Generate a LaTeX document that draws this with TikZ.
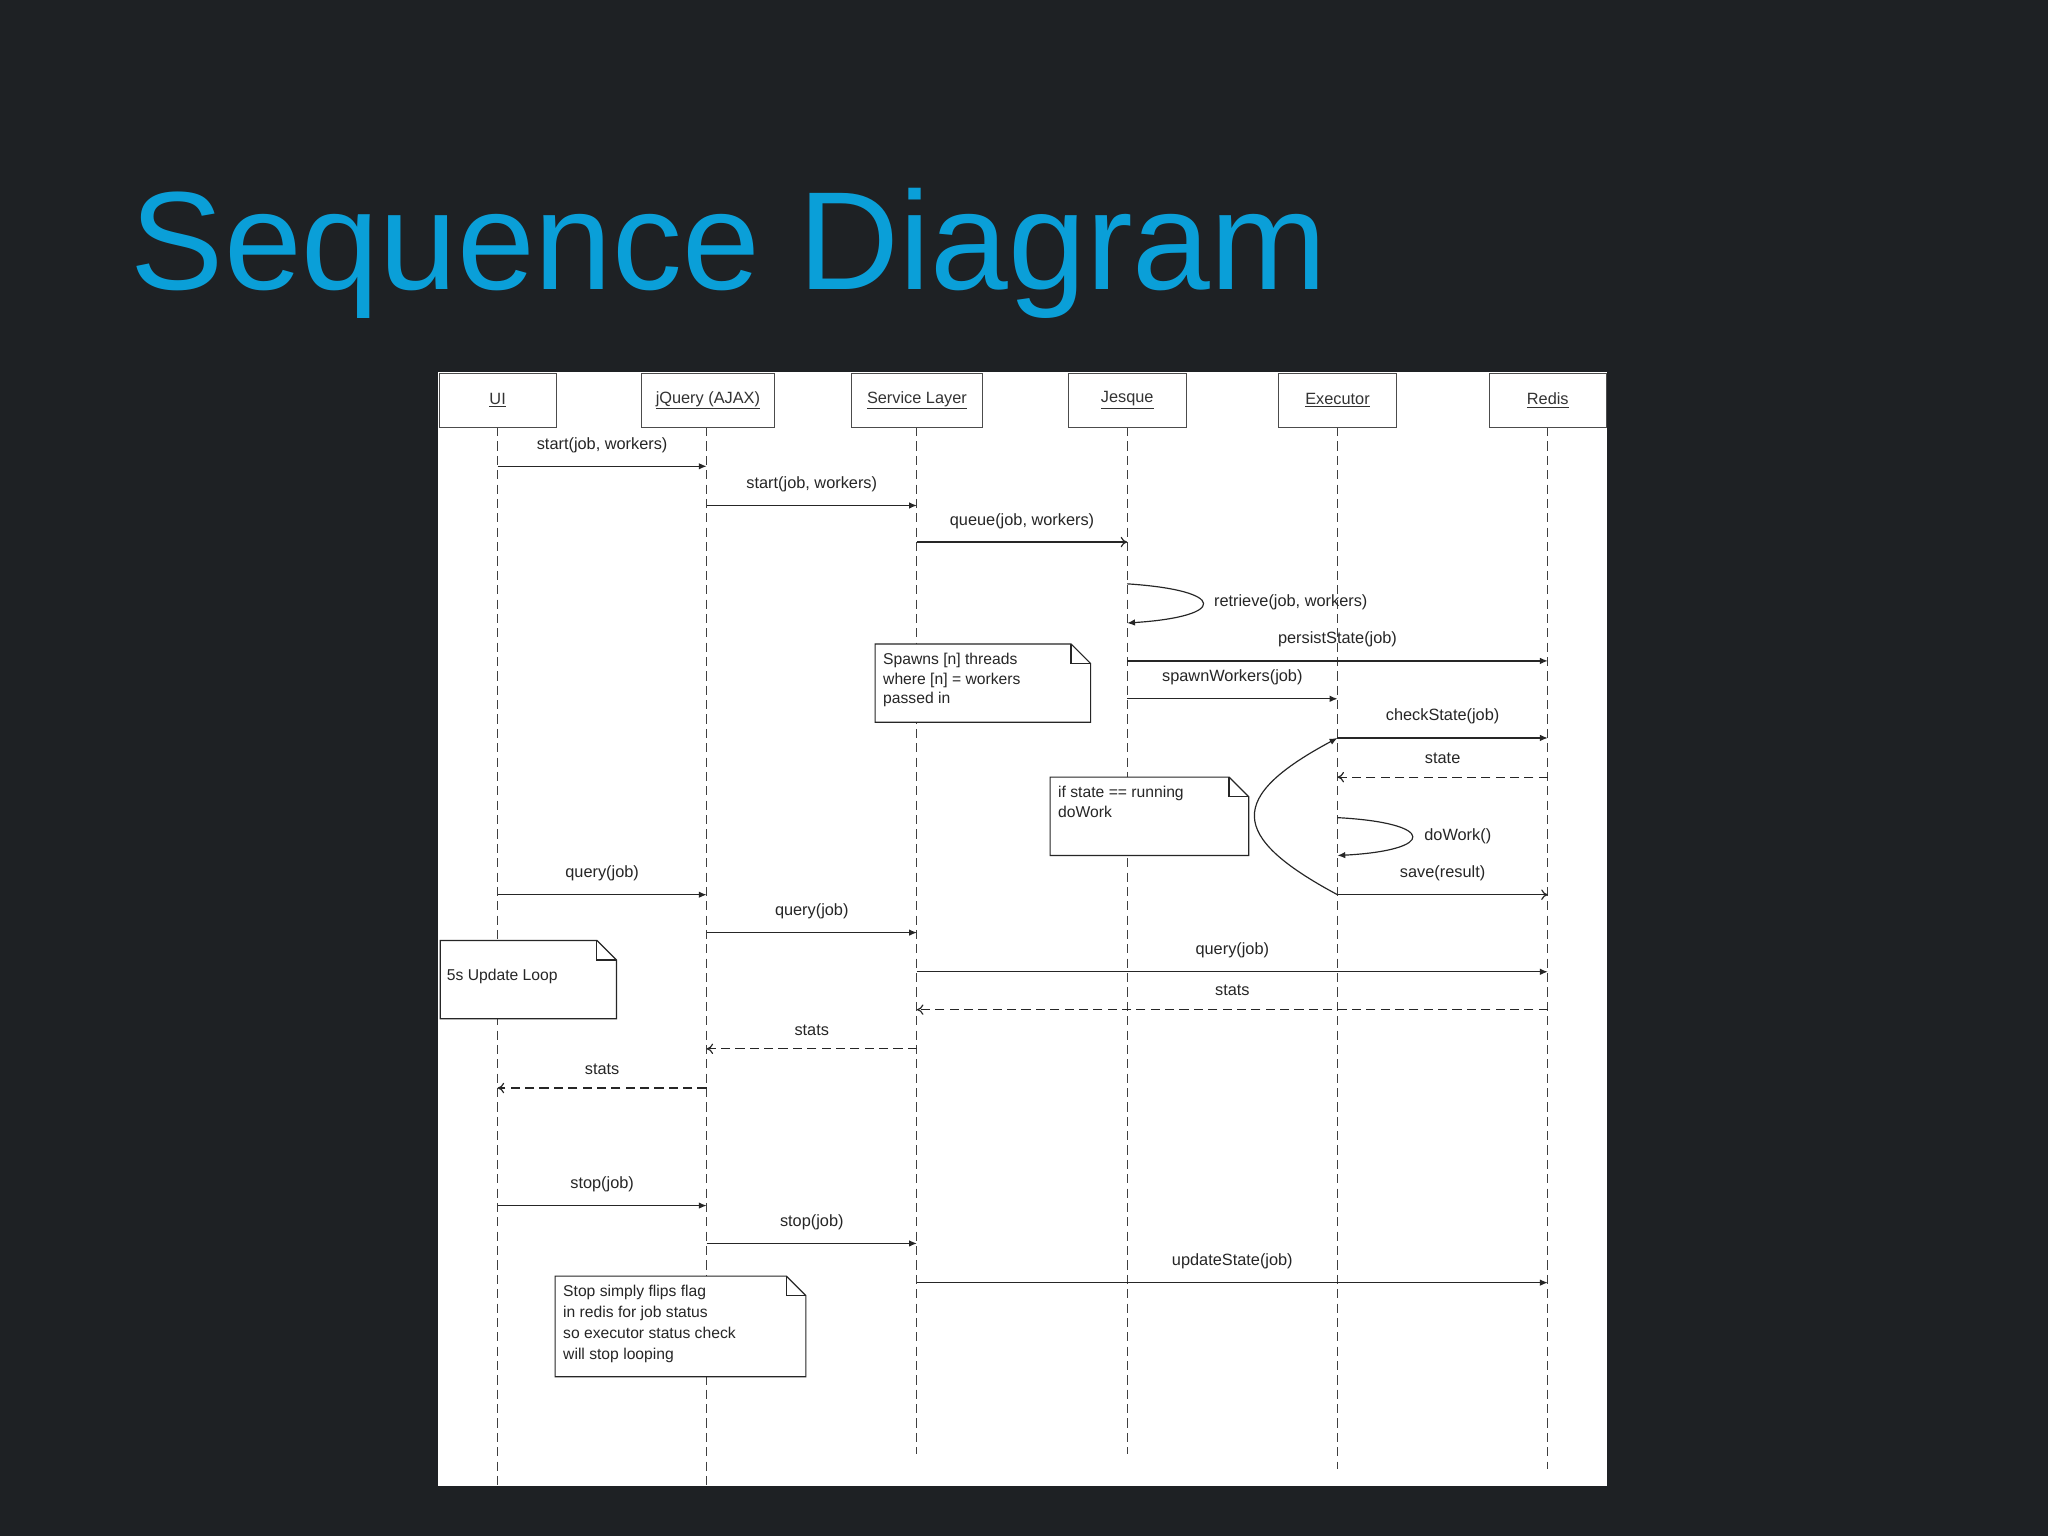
\documentclass[tikz,border=0pt]{standalone}
\usepackage{fontspec}
\setmainfont{Liberation Sans}
\usetikzlibrary{arrows.meta}
\definecolor{bg}{HTML}{1E2124}
\definecolor{ttl}{HTML}{0A9FD8}
\begin{document}
\begin{tikzpicture}[x=1pt,y=-1pt,
  hdr/.style={draw=black!70,fill=white,minimum width=90pt,minimum height=41pt,inner sep=0pt,font=\fontsize{12.5}{14}\selectfont,text=black!80},
  life/.style={draw=black!75,dash pattern=on 7pt off 4pt,line width=0.9pt},
  msg/.style={draw=black!85,line width=0.9pt,-{Latex[length=6pt,width=5pt]}},
  omsg/.style={draw=black!85,line width=0.9pt,-{To[length=5pt,width=8pt]}},
  ret/.style={draw=black!85,line width=0.9pt,dash pattern=on 7pt off 4pt,-{To[length=5pt,width=8pt]}},
  lbl/.style={font=\fontsize{12.5}{14}\selectfont,text=black!85,above=9pt,inner sep=1pt},
  note/.style={font=\fontsize{12}{15}\selectfont,text=black!85,align=left,anchor=north west,inner sep=0pt}]
\fill[bg] (0,0) rectangle (1568,1176);
\node[anchor=base west,text=ttl,font=\fontsize{107}{107}\selectfont,inner sep=0pt] (title) at (100,222) {Sequence Diagram};
\fill[white] (335,285) rectangle (1230,1138);
% lifelines
\foreach \n/\x/\e in {ui/381/1138,jq/541/1138,sv/702/1113,js/863/1113,ex/1024/1125,rd/1185/1125}{
  \coordinate (\n0) at (\x,327); \coordinate (\n1) at (\x,\e);
  \draw[life] (\n0) -- (\n1);
}
\node[hdr] (hui) at (381,306.5) {\underline{UI}};
\node[hdr,minimum width=102pt] (hjq) at (542,306.5) {\underline{jQuery (AJAX)}};
\node[hdr,minimum width=100pt] (hsv) at (702,306.5) {\underline{Service Layer}};
\node[hdr] (hjs) at (863,306.5) {\underline{Jesque}};
\node[hdr] (hex) at (1024,306.5) {\underline{Executor}};
\node[hdr] (hrd) at (1185,306.5) {\underline{Redis}};
\newcommand{\msgline}[6]{%
  \coordinate (#6a) at (#2,#4); \coordinate (#6b) at (#3,#4);
  \draw[#1] (#6a) -- node[lbl] {#5} (#6b);}
\msgline{msg}{381}{541}{357}{start(job, workers)}{m1}
\msgline{msg}{541}{702}{387}{start(job, workers)}{m2}
\msgline{omsg}{702}{863}{415}{queue(job, workers)}{m3}
\coordinate (r1) at (863,447); \coordinate (r2) at (863,477);
\draw[msg] (r1) .. controls (940,452) and (940,472) .. (r2);
\node[font=\fontsize{12.5}{14}\selectfont,text=black!85,anchor=west] (rl) at (926,461) {retrieve(job, workers)};
\msgline{msg}{863}{1185}{506}{persistState(job)}{m5}
\msgline{msg}{863}{1024}{535}{spawnWorkers(job)}{m6}
\msgline{msg}{1024}{1185}{565}{checkState(job)}{m7}
\msgline{ret}{1185}{1024}{595}{state}{m8}
\coordinate (d1) at (1024,626); \coordinate (d2) at (1024,655);
\draw[msg] (d1) .. controls (1100,630) and (1100,651) .. (d2);
\node[font=\fontsize{12.5}{14}\selectfont,text=black!85,anchor=west] (dl) at (1087,640) {doWork()};
\msgline{omsg}{1024}{1185}{685}{save(result)}{m10}
\draw[draw=black!85,line width=0.9pt,-{Latex[length=6pt,width=5pt]}] (m10a) .. controls (940,640) and (940,610) .. (m7a);
\msgline{msg}{381}{541}{685}{query(job)}{m11}
\msgline{msg}{541}{702}{714}{query(job)}{m12}
\msgline{msg}{702}{1185}{744}{query(job)}{m13}
\msgline{ret}{1185}{702}{773}{stats}{m14}
\msgline{ret}{702}{541}{803}{stats}{m15}
\msgline{ret}{541}{381}{833}{stats}{m16}
\msgline{msg}{381}{541}{923}{stop(job)}{m17}
\msgline{msg}{541}{702}{952}{stop(job)}{m18}
\msgline{msg}{702}{1185}{982}{updateState(job)}{m19}
\newcommand{\notebox}[5]{%
  \draw[black!85,line width=0.9pt,fill=white] (#1,#2) -- (#3-15,#2) -- (#3,#2+15) -- (#3,#4) -- (#1,#4) -- cycle;
  \draw[black!85,line width=0.9pt] (#3-15,#2) -- (#3-15,#2+15) -- (#3,#2+15);
  \coordinate (#5) at (#1+6,#2+7);}
\notebox{670}{493}{835}{553}{n1}
\node[note] (t1) at (n1) {Spawns [n] threads\\where [n] = workers\\passed in};
\notebox{804}{595}{956}{655}{n2}
\node[note] (t2) at (n2) {if state == running\\doWork};
\notebox{337}{720}{472}{780}{n3}
\node[note] (t3) at (342,742) {5s Update Loop};
\notebox{425}{977}{617}{1054}{n4}
\node[note,font=\fontsize{12}{16}\selectfont] (t4) at (n4) {Stop simply flips flag\\in redis for job status\\so executor status check\\will stop looping};
\end{tikzpicture}
\end{document}
